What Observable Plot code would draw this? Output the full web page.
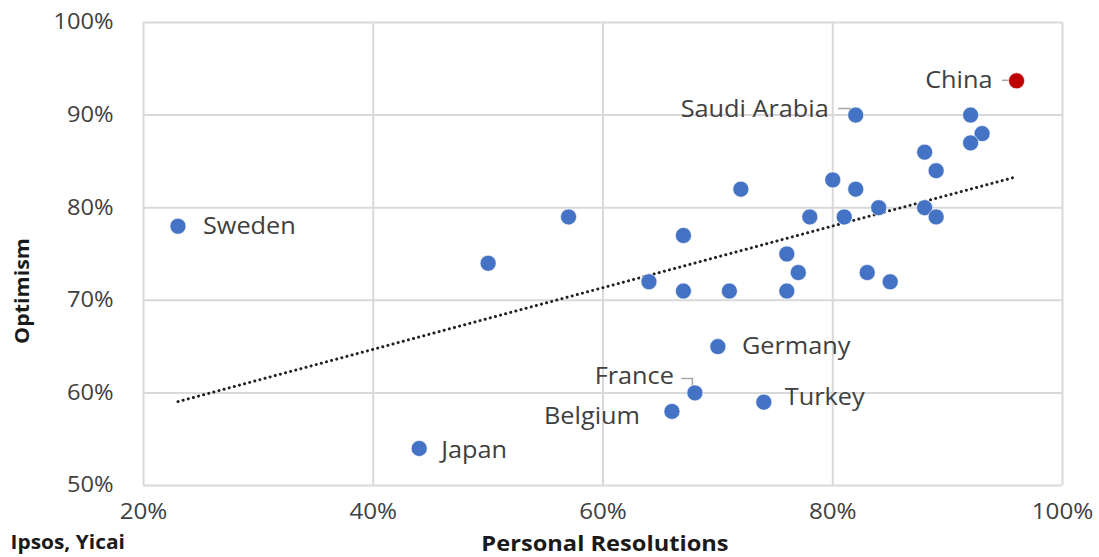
<!DOCTYPE html>
<html><head><meta charset="utf-8">
<script src="https://cdn.jsdelivr.net/npm/d3@7"></script>
<script src="https://cdn.jsdelivr.net/npm/@observablehq/plot@0.6"></script>
<style>
body{margin:0;background:#fff;}
#chart svg{display:block;}
</style></head>
<body><div id="chart"></div>
<script>
// Data (percent)
const countries = ["China","Saudi Arabia","","","","","","","","","","","","","","","","","","","","","","","Sweden","","","Germany","France","Belgium","Turkey","Japan"];
const resolutions = [96,82,92,93,92,88,89,72,80,82,84,81,78,88,89,67,76,77,83,85,64,67,71,76,23,57,50,70,68,66,74,44];
const optimism    = [93.7,90,90,88,87,86,84,82,83,82,80,79,79,80,79,77,75,73,73,72,72,71,71,71,78,79,74,65,60,58,59,54];
const xTicks = [20,40,60,80,100];
const yTicks = [50,60,70,80,90,100];

const data = countries.map((c,i)=>({country:c, x:resolutions[i], y:optimism[i]}));

// label placement (styling)
const place = {
  "China":        {anchor:"end",   dx:-24, dy:0,  leader:[[-14,0],[-4,0]]},
  "Saudi Arabia": {anchor:"end",   dx:-27, dy:-5, leader:[[-17,-6],[-5,-6],[-5,-2]]},
  "France":       {anchor:"end",   dx:-21, dy:-16,leader:[[-13,-14],[-2,-14],[-2,-4]]},
  "Germany":      {anchor:"start", dx:24,  dy:0},
  "Turkey":       {anchor:"start", dx:21,  dy:-5},
  "Belgium":      {anchor:"end",   dx:-32, dy:5},
  "Japan":        {anchor:"start", dx:22,  dy:2},
  "Sweden":       {anchor:"start", dx:25,  dy:0}
};
const labeled = data.filter(d=>d.country);
const font = "'Open Sans', 'Noto Sans', sans-serif";
const stretch = 1.1;

const leaders = (index, {x, y}) => {
  const g = d3.create("svg:g").attr("fill","none").attr("stroke","#a6a6a6").attr("stroke-width",1.5);
  for (const d of labeled) {
    const p = place[d.country];
    if (!p.leader) continue;
    const px = x(d.x), py = y(d.y);
    g.append("path").attr("d", d3.line()(p.leader.map(([a,b])=>[px+a, py+b])));
  }
  return g.node();
};

const textMarks = Object.keys(place).map(name => {
  const p = place[name];
  return Plot.text(labeled.filter(d=>d.country===name), {
    x:"x", y:"y", text:"country", textAnchor:p.anchor, dx:p.dx, dy:p.dy,
    fontSize:23, fill:"#404040", fontFamily:font
  });
});

const pct = d=>d+"%";
const plot = Plot.plot({
  width:1099, height:557,
  marginLeft:143, marginRight:37, marginTop:22, marginBottom:72,
  style:{background:"#fff", overflow:"visible", fontFamily:font},
  x:{domain:[20,100]},
  y:{domain:[50,100]},
  marks:[
    Plot.gridX(xTicks, {stroke:"#d9d9d9", strokeOpacity:1, strokeWidth:2}),
    Plot.gridY(yTicks, {stroke:"#d9d9d9", strokeOpacity:1, strokeWidth:2}),
    Plot.axisX(xTicks, {tickSize:0, tickPadding:18, tickFormat:pct, fontSize:22, fill:"#404040", label:null}),
    Plot.axisY(yTicks, {tickSize:0, tickPadding:30, tickFormat:pct, fontSize:21.5, fill:"#404040", label:null}),
    Plot.linearRegressionY(data, {x:"x", y:"y", ci:0, stroke:"#222", strokeWidth:3, strokeDasharray:"0.1,5.2", strokeLinecap:"round"}),
    leaders,
    Plot.dot(data, {x:"x", y:"y", r:8, fill:d=>d.country==="China"?"#c00000":"#4472c4", stroke:"#fff", strokeOpacity:0.6, strokeWidth:1}),
    ...textMarks,
    Plot.text(["Optimism"], {frameAnchor:"left", dx:-121, dy:37, rotate:-90, textAnchor:"middle", text:d=>d, fontSize:19.5, fontWeight:"bold", fill:"#1a1a1a"}),
    Plot.text(["Personal Resolutions"], {frameAnchor:"bottom", dx:2, dy:65, textAnchor:"middle", text:d=>d, fontSize:21.5, fontWeight:"bold", fill:"#1a1a1a"}),
    Plot.text(["Ipsos, Yicai"], {frameAnchor:"bottom-left", dx:-133, dy:63, textAnchor:"start", text:d=>d, fontSize:19, fontWeight:"bold", fill:"#1a1a1a"})
  ]
});
// horizontal stretch of the reference typography
d3.select(plot).selectAll("text").each(function(){
  const t = this.getAttribute("transform");
  if (t) this.setAttribute("transform", t + ` scale(${stretch},1)`);
  else {
    const x = +(this.getAttribute("x")||0), y = +(this.getAttribute("y")||0);
    this.removeAttribute("x"); this.removeAttribute("y");
    this.setAttribute("transform", `translate(${x},${y}) scale(${stretch},1)`);
  }
});
document.getElementById("chart").appendChild(plot);
</script></body></html>
